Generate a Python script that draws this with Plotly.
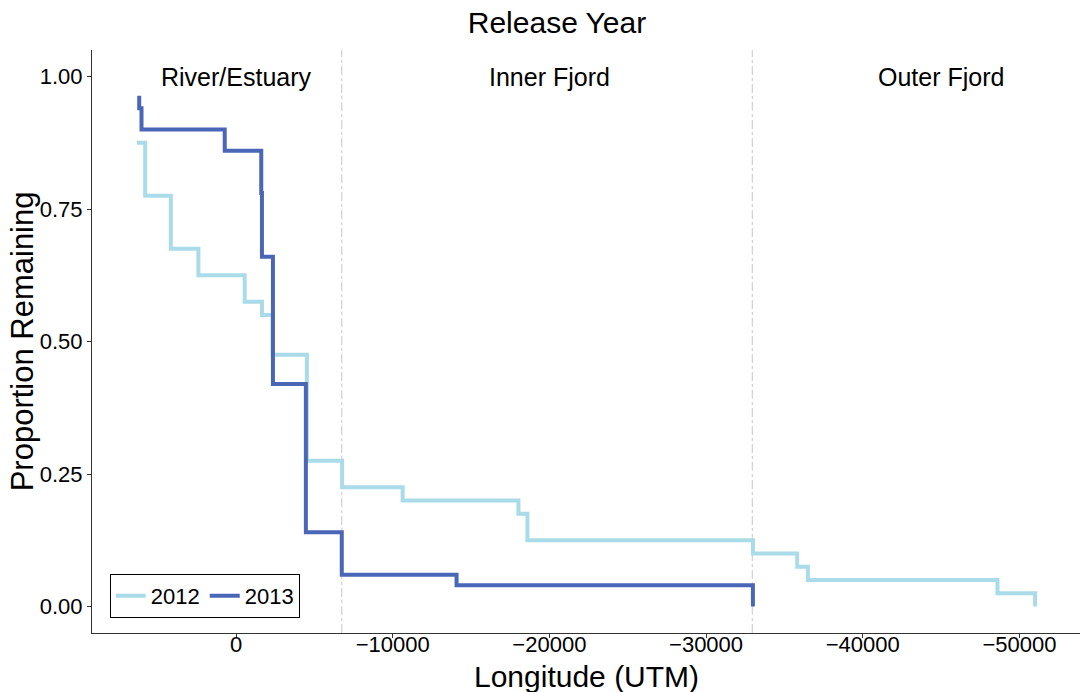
import plotly.graph_objects as go

# Data
x_2012 = [6325, 5796, 4159, 2401, -554, -1656, -2338, -4522, -6771, -10637,
          -18025, -18599, -32994, -35815, -36497, -48599, -51000]
y_2012 = [0.875, 0.775, 0.675, 0.625, 0.575, 0.55, 0.475, 0.275, 0.225, 0.2,
          0.175, 0.125, 0.1, 0.075, 0.05, 0.025, 0.0]

x_2013 = [6306, 6178, 6032, 720, -1611, -1656, -2357, -4459, -6750, -14076, -32990]
y_2013 = [0.96, 0.94, 0.90, 0.86, 0.78, 0.66, 0.42, 0.14, 0.06, 0.04, 0.0]

region_bounds = [-6750, -32950]
region_labels = ["River/Estuary", "Inner Fjord", "Outer Fjord"]
region_label_x = [0, -20000, -45000]

x_tickvals = [0, -10000, -20000, -30000, -40000, -50000]
x_ticktext = ["0", "\u221210000", "\u221220000", "\u221230000", "\u221240000", "\u221250000"]
y_tickvals = [0, 0.25, 0.5, 0.75, 1.0]

FONT = "Liberation Sans, Arial, Helvetica, sans-serif"

fig = go.Figure()
fig.add_trace(go.Scatter(x=x_2012, y=y_2012, mode="lines", line_shape="hv",
                         line=dict(color="#a9dbe8", width=4), name="2012"))
fig.add_trace(go.Scatter(x=x_2013, y=y_2013, mode="lines", line_shape="hv",
                         line=dict(color="#4a66b7", width=4), name="2013"))

for xb in region_bounds:
    fig.add_shape(type="line", xref="x", yref="paper", x0=xb, x1=xb, y0=0, y1=1,
                  line=dict(color="#c8c8c8", width=1, dash="dashdot"), layer="below")

for lab, lx in zip(region_labels, region_label_x):
    fig.add_annotation(x=lx, y=1.0, xref="x", yref="y", text=lab, showarrow=False,
                       font=dict(family=FONT, size=25, color="black"))

# axis titles as annotations for precise placement
fig.add_annotation(text="Longitude (UTM)", xref="paper", yref="paper",
                   x=0.5, y=-0.075, xanchor="center", yanchor="middle", showarrow=False,
                   borderpad=0,
                   font=dict(family=FONT, size=30, color="black"))
fig.add_annotation(text="Proportion Remaining", xref="paper", yref="paper",
                   x=-0.07, y=0.5, xanchor="center", yanchor="middle", showarrow=False,
                   borderpad=0,
                   textangle=-90, font=dict(family=FONT, size=31, color="black"))

fig.update_layout(
    width=1082, height=692,
    margin=dict(l=92, r=2, t=50, b=59),
    paper_bgcolor="white", plot_bgcolor="white",
    font=dict(family=FONT, color="black"),
    title=dict(text="Release Year", x=557 / 1082, xanchor="center", xref="container",
               y=1 - 22 / 692, yanchor="middle", yref="container",
               font=dict(family=FONT, size=30, color="black")),
    showlegend=True,
    legend=dict(orientation="h", x=0.018, y=0.026, xanchor="left", yanchor="bottom",
                bordercolor="black", borderwidth=1, bgcolor="white",
                font=dict(family=FONT, size=22, color="black"),
                itemwidth=30, tracegroupgap=0),
    xaxis=dict(range=[9191, -53866], tickvals=x_tickvals, ticktext=x_ticktext,
               showgrid=False, zeroline=False, showline=True, linecolor="#333333",
               linewidth=1, ticks="outside", ticklen=4, tickcolor="#333333",
               ticklabelstandoff=-12,
               tickfont=dict(family=FONT, size=22, color="black")),
    yaxis=dict(range=[-0.05, 1.05], tickvals=y_tickvals, tickformat=".2f",
               showgrid=False, zeroline=False, showline=True, linecolor="#333333",
               linewidth=1, ticks="outside", ticklen=4, tickcolor="#333333",
               tickfont=dict(family=FONT, size=22, color="black")),
)

fig.write_html("out.html")
